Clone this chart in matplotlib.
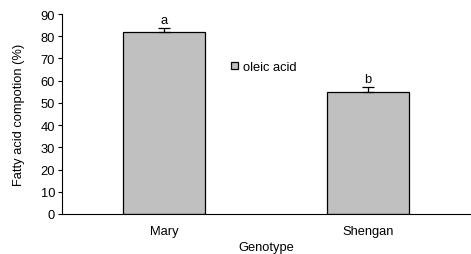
import numpy as np
import matplotlib
matplotlib.use("Agg")
from matplotlib import pyplot as plt

genotypes = ['Mary', 'Shengan']
oleic = [81.8, 55.0]
oleic_err = [2.0, 2.0]
letters = ['a', 'b']

plt.rcParams['font.family'] = ['Liberation Sans', 'DejaVu Sans']
plt.rcParams['font.size'] = 9.3

fig = plt.figure(figsize=(4.71, 2.55), dpi=100)
ax = fig.add_axes([62/471, 40/255, 408/471, 200/255])

x = np.arange(len(genotypes))
bars = ax.bar(x, oleic, width=0.4, color='#c0c0c0', edgecolor='black', linewidth=0.9,
              label='oleic acid', zorder=2)
ax.errorbar(x, oleic, yerr=[np.zeros(len(oleic)), oleic_err], fmt='none', ecolor='black',
            elinewidth=0.9, capsize=4, capthick=0.9, zorder=3)
for xi, v, e, l in zip(x, oleic, oleic_err, letters):
    ax.text(xi, v + e + 1.0, l, ha='center', va='bottom')

ax.set_xlim(-0.5, 1.5)
ax.set_ylim(0, 90)
ax.set_yticks(np.arange(0, 91, 10))
ax.set_xticks(x)
ax.set_xticklabels(genotypes)
ax.tick_params(axis='x', length=0, pad=8)
ax.tick_params(axis='y', length=3, width=0.8, pad=2)
for s in ['top', 'right']:
    ax.spines[s].set_visible(False)
ax.spines['left'].set_linewidth(0.8)
ax.spines['bottom'].set_linewidth(0.8)

ax.set_xlabel('Genotype', labelpad=3)
ax.set_ylabel('Fatty acid compotion (%)', labelpad=11)

ax.legend(loc='center left', bbox_to_anchor=(0.385, 0.735), frameon=False,
          handlelength=0.55, handleheight=0.55, handletextpad=0.4)

fig.savefig('out.png', dpi=100)
